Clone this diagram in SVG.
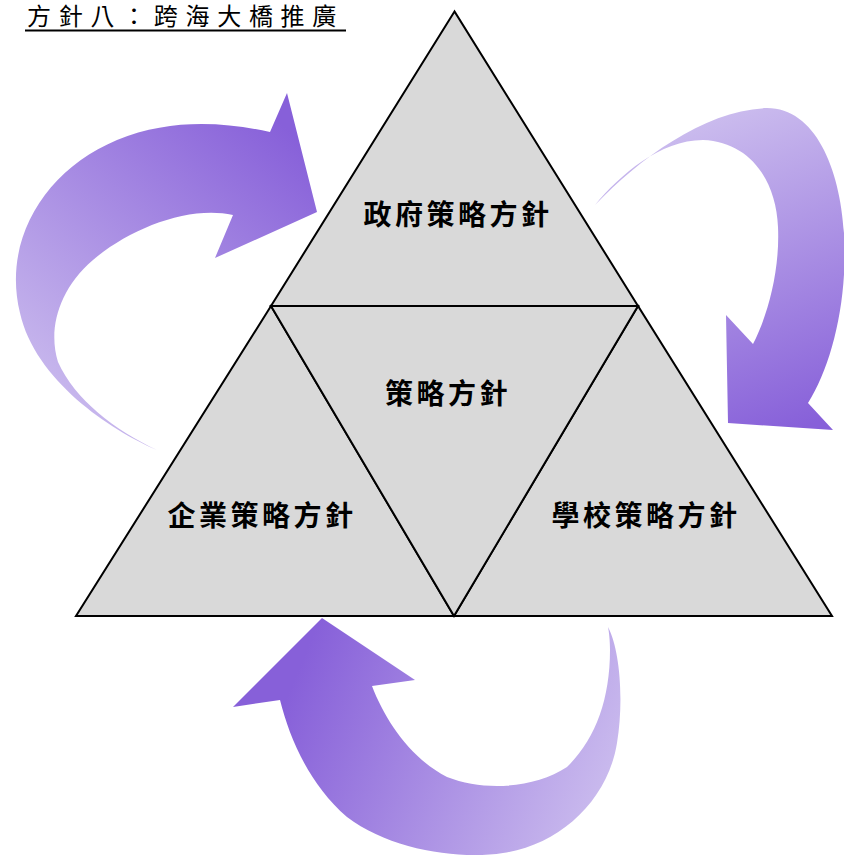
<svg xmlns="http://www.w3.org/2000/svg" width="844" height="856" viewBox="0 0 844 856">
<style>
  .tri { fill: #d9d9d9; stroke: #000; stroke-width: 2; stroke-linejoin: miter; }
  .lbl { font-family: "Noto Sans CJK TC", "Noto Sans CJK SC", sans-serif; font-weight: 700; font-size: 28px; letter-spacing: 3.5px; fill: #000; text-anchor: middle; dominant-baseline: central; }
  .title { font-family: "Noto Sans CJK TC", "Noto Sans CJK SC", sans-serif; font-size: 24px; letter-spacing: 7.7px; fill: #000; }
</style>
<defs>
  <linearGradient id="gLeft" gradientUnits="userSpaceOnUse" x1="60" y1="420" x2="300" y2="140">
    <stop offset="0" stop-color="#cbbcee"/>
    <stop offset="1" stop-color="#8760d9"/>
  </linearGradient>
  <linearGradient id="gRight" gradientUnits="userSpaceOnUse" x1="700" y1="120" x2="810" y2="425">
    <stop offset="0" stop-color="#cbbcee"/>
    <stop offset="1" stop-color="#8760d9"/>
  </linearGradient>
  <linearGradient id="gBottom" gradientUnits="userSpaceOnUse" x1="290" y1="690" x2="600" y2="820">
    <stop offset="0" stop-color="#8760d9"/>
    <stop offset="1" stop-color="#cbbcee"/>
  </linearGradient>
</defs>
<rect width="844" height="856" fill="#fff"/>

<g id="title">
  <text class="title" x="27" y="25">方針八：跨海大橋推廣</text>
  <line x1="25" y1="30.5" x2="346" y2="30.5" stroke="#000" stroke-width="2"/>
</g>

<g id="connectors">
  <path id="arrow-left" fill="url(#gLeft)" d="M157,450 C110,430 35,380 20,313 C2,240 45,170 117,140 C170,118 225,122 270,132 L287,93 L317,212 L215,258 L233,215 C190,205 130,228 93,260 C58,290 48,330 58,362 C75,400 115,430 157,450 Z"/>
  <path id="arrow-right" fill="url(#gRight)" d="M595,205 C640,158 705,110 767,108 C815,108 840,168 844,233 C848,300 832,365 808,403 L833,430 L728,423 L726,315 L753,344 C768,315 780,270 778,227 C776,180 750,142 703,140 C660,140 620,175 595,205 Z"/>
  <path id="arrow-bottom" fill="url(#gBottom)" d="M608,627 C620,650 624,700 617,743 C608,800 560,845 503,853 C460,860 390,850 347,817 C310,785 290,740 280,700 L233,707 L322,618 L415,680 L372,686 C385,720 410,758 447,777 C485,792 535,788 567,767 C595,740 610,700 610,650 C610,640 609,632 608,627 Z"/>
</g>

<g id="node-top">
  <polygon class="tri" points="454.5,11.5 271,306 638,306"/>
  <text class="lbl" x="458" y="213">政府策略方針</text>
</g>
<g id="node-left">
  <polygon class="tri" points="271,306 76,616 454,616"/>
  <text class="lbl" x="262" y="514">企業策略方針</text>
</g>
<g id="node-right">
  <polygon class="tri" points="638,306 454,616 832,616"/>
  <text class="lbl" x="646" y="514">學校策略方針</text>
</g>
<g id="node-center">
  <polygon class="tri" points="271,306 638,306 454,616"/>
  <text class="lbl" x="448" y="392">策略方針</text>
</g>
</svg>
